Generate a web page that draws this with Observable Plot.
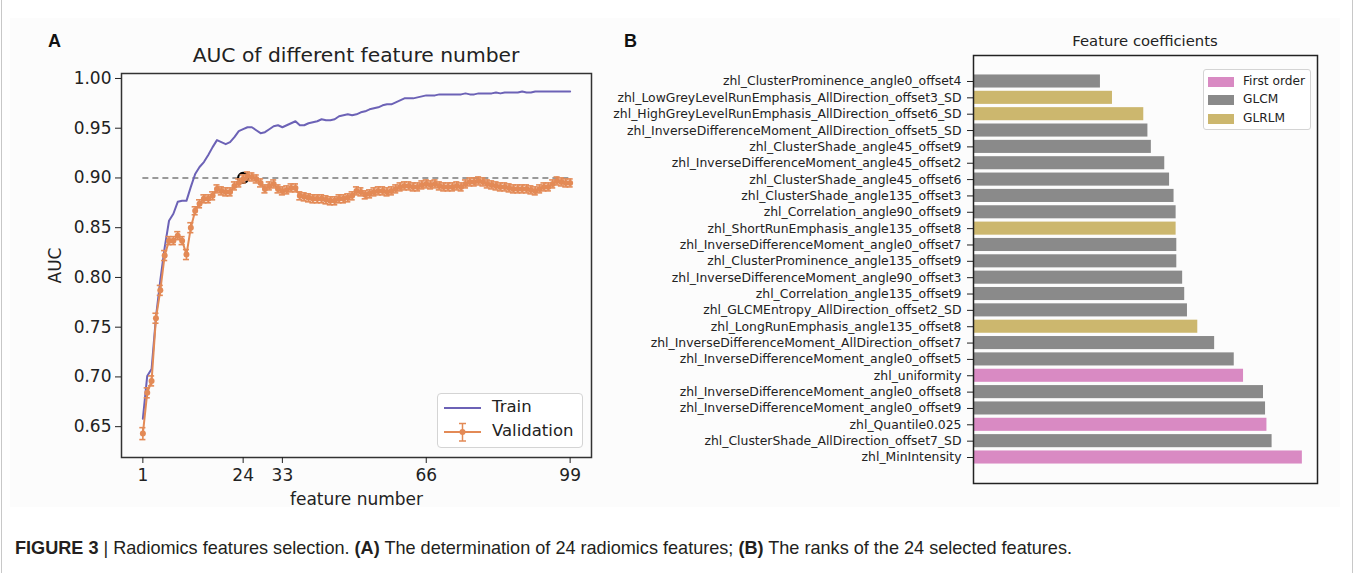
<!DOCTYPE html>
<html>
<head>
<meta charset="utf-8">
<script src="https://cdn.jsdelivr.net/npm/d3@7"></script>
<script src="https://cdn.jsdelivr.net/npm/@observablehq/plot@0.6"></script>
<style>
  html, body { margin: 0; padding: 0; background: #fff; }
  #fig { position: relative; width: 1358px; height: 573px; overflow: hidden; font-family: "DejaVu Sans", sans-serif; color: #222; }
  .abs { position: absolute; }
  .panel-letter { font-family: "Liberation Sans", Arial, sans-serif; font-weight: bold; font-size: 18px; color: #111; }
  .leg-text { font-family: "DejaVu Sans", sans-serif; white-space: nowrap; color: #222; }
</style>
</head>
<body>
<div id="fig">
  <div class="abs" style="left:1px;top:0;width:1px;height:573px;background:#c8c8c8"></div>
  <div class="abs" style="left:1352px;top:0;width:1px;height:573px;background:#c8c8c8"></div>
  <div class="abs" style="left:10px;top:18px;width:1330px;height:489px;background:#fcfcfc"></div>
  <div id="chartA" class="abs" style="left:0;top:0"></div>
  <div id="chartB" class="abs" style="left:600px;top:0"></div>
  <div class="abs panel-letter" style="left:48px;top:31px">A</div>
  <div class="abs panel-letter" style="left:624px;top:31px">B</div>
  <div class="abs leg-text" style="left:121px;top:43px;width:470px;text-align:center;font-size:20.3px">AUC of different feature number</div>
  <div class="abs leg-text" style="left:973px;top:32px;width:344px;text-align:center;font-size:14.8px">Feature coefficients</div>
  <div id="legA" class="abs"></div>
  <div id="legB" class="abs"></div>
  <div class="abs" style="left:15px;top:538px;font-family:'Liberation Sans',Arial,sans-serif;font-size:18.1px;color:#231f20;white-space:nowrap">
    <b>FIGURE 3</b> | Radiomics features selection. <b>(A)</b> The determination of 24 radiomics features; <b>(B)</b> The ranks of the 24 selected features.
  </div>
</div>
<script>
// ---------- Panel A data ----------
const xTicks = [1, 24, 33, 66, 99];
const yTicks = [0.65, 0.70, 0.75, 0.80, 0.85, 0.90, 0.95, 1.00];
const bestThreshold = 0.90;
const bestFeatureNumber = 24;
const seriesNames = ["Train", "Validation"];

const trainAUC = [
  0.658, 0.701, 0.708, 0.760, 0.797, 0.830, 0.857, 0.864, 0.876, 0.877,
  0.877, 0.891, 0.904, 0.911, 0.916, 0.923, 0.931, 0.938, 0.936, 0.934,
  0.936, 0.941, 0.947, 0.949, 0.951, 0.951, 0.948, 0.945, 0.946, 0.949,
  0.952, 0.953, 0.951, 0.953, 0.955, 0.957, 0.953, 0.953, 0.955, 0.956,
  0.957, 0.959, 0.958, 0.958, 0.959, 0.962, 0.963, 0.964, 0.963, 0.964,
  0.966, 0.967, 0.969, 0.970, 0.971, 0.973, 0.974, 0.974, 0.976, 0.978,
  0.980, 0.980, 0.980, 0.981, 0.982, 0.983, 0.983, 0.983, 0.984, 0.984,
  0.984, 0.984, 0.984, 0.984, 0.985, 0.984, 0.984, 0.985, 0.985, 0.985,
  0.985, 0.986, 0.985, 0.986, 0.986, 0.986, 0.986, 0.987, 0.986, 0.986,
  0.987, 0.987, 0.987, 0.987, 0.987, 0.987, 0.987, 0.987, 0.987
];
const valAUC = [
  0.643, 0.684, 0.696, 0.759, 0.787, 0.822, 0.837, 0.837, 0.842, 0.837,
  0.823, 0.850, 0.867, 0.874, 0.879, 0.879, 0.882, 0.889, 0.887, 0.886,
  0.886, 0.892, 0.895, 0.899, 0.902, 0.901, 0.899, 0.895, 0.889, 0.892,
  0.894, 0.889, 0.887, 0.888, 0.890, 0.890, 0.882, 0.881, 0.880, 0.879,
  0.879, 0.879, 0.878, 0.877, 0.877, 0.879, 0.879, 0.880, 0.882, 0.887,
  0.886, 0.883, 0.884, 0.886, 0.887, 0.887, 0.886, 0.887, 0.889, 0.891,
  0.892, 0.892, 0.891, 0.891, 0.893, 0.894, 0.893, 0.894, 0.892, 0.891,
  0.891, 0.891, 0.892, 0.891, 0.894, 0.896, 0.896, 0.897, 0.896, 0.894,
  0.893, 0.892, 0.891, 0.891, 0.890, 0.889, 0.889, 0.889, 0.889, 0.888,
  0.887, 0.889, 0.891, 0.891, 0.894, 0.897, 0.896, 0.895, 0.895
];
const valErr = [
  0.006, 0.005, 0.005, 0.005, 0.005, 0.005, 0.004, 0.004, 0.004, 0.004,
  0.005, 0.005, 0.004, 0.004, 0.004, 0.004, 0.004, 0.004, 0.004, 0.004,
  0.004, 0.004, 0.004, 0.004, 0.004, 0.004, 0.004, 0.004, 0.004, 0.004,
  0.004, 0.004, 0.004, 0.004, 0.004, 0.004, 0.004, 0.004, 0.004, 0.004,
  0.004, 0.004, 0.004, 0.004, 0.004, 0.004, 0.004, 0.004, 0.004, 0.004,
  0.004, 0.004, 0.004, 0.004, 0.004, 0.004, 0.004, 0.004, 0.004, 0.004,
  0.004, 0.004, 0.004, 0.004, 0.004, 0.004, 0.004, 0.004, 0.004, 0.004,
  0.004, 0.004, 0.004, 0.004, 0.004, 0.004, 0.004, 0.004, 0.004, 0.004,
  0.004, 0.004, 0.004, 0.004, 0.004, 0.004, 0.004, 0.004, 0.004, 0.004,
  0.004, 0.004, 0.004, 0.004, 0.004, 0.004, 0.004, 0.004, 0.004
];

// ---------- Panel B data ----------
const featureNames = [
  "zhl_ClusterProminence_angle0_offset4",
  "zhl_LowGreyLevelRunEmphasis_AllDirection_offset3_SD",
  "zhl_HighGreyLevelRunEmphasis_AllDirection_offset6_SD",
  "zhl_InverseDifferenceMoment_AllDirection_offset5_SD",
  "zhl_ClusterShade_angle45_offset9",
  "zhl_InverseDifferenceMoment_angle45_offset2",
  "zhl_ClusterShade_angle45_offset6",
  "zhl_ClusterShade_angle135_offset3",
  "zhl_Correlation_angle90_offset9",
  "zhl_ShortRunEmphasis_angle135_offset8",
  "zhl_InverseDifferenceMoment_angle0_offset7",
  "zhl_ClusterProminence_angle135_offset9",
  "zhl_InverseDifferenceMoment_angle90_offset3",
  "zhl_Correlation_angle135_offset9",
  "zhl_GLCMEntropy_AllDirection_offset2_SD",
  "zhl_LongRunEmphasis_angle135_offset8",
  "zhl_InverseDifferenceMoment_AllDirection_offset7",
  "zhl_InverseDifferenceMoment_angle0_offset5",
  "zhl_uniformity",
  "zhl_InverseDifferenceMoment_angle0_offset8",
  "zhl_InverseDifferenceMoment_angle0_offset9",
  "zhl_Quantile0.025",
  "zhl_ClusterShade_AllDirection_offset7_SD",
  "zhl_MinIntensity"
];
const featureCoef = [
  0.369, 0.404, 0.495, 0.507, 0.517, 0.556, 0.570, 0.583, 0.589, 0.589,
  0.591, 0.591, 0.608, 0.614, 0.622, 0.652, 0.701, 0.758, 0.785, 0.843,
  0.849, 0.853, 0.868, 0.956
];
const featureGroup = [
  "GLCM", "GLRLM", "GLRLM", "GLCM", "GLCM", "GLCM", "GLCM", "GLCM", "GLCM", "GLRLM",
  "GLCM", "GLCM", "GLCM", "GLCM", "GLCM", "GLRLM", "GLCM", "GLCM", "First order", "GLCM",
  "GLCM", "First order", "GLCM", "First order"
];
const groupNames = ["First order", "GLCM", "GLRLM"];

// ---------- styles ----------
const trainColor = "#6c62b6";
const valColor = "#e38a56";
const groupColors = ["#d98ac3", "#8a8a8a", "#ccb76e"];

// ---------- Panel A ----------
const featureNumbers = d3.range(1, trainAUC.length + 1);
const trainRows = featureNumbers.map((n, i) => ({n, auc: trainAUC[i]}));
const valRows = featureNumbers.map((n, i) => ({n, auc: valAUC[i], lo: valAUC[i] - valErr[i], hi: valAUC[i] + valErr[i]}));

const chartA = Plot.plot({
  width: 620, height: 520,
  marginLeft: 121, marginRight: 29, marginTop: 73, marginBottom: 63,
  x: {domain: [-3.9, 103.9]},
  y: {domain: [0.619, 1.005]},
  style: {fontFamily: "DejaVu Sans", fontSize: "17px", color: "#222", background: "transparent", overflow: "visible"},
  marks: [
    Plot.ruleY([bestThreshold], {x1: 1, x2: 99, stroke: "#7a7a7a", strokeWidth: 1.4, strokeDasharray: "6,4"}),
    Plot.dot([{n: bestFeatureNumber, auc: bestThreshold}], {x: "n", y: "auc", r: 5, stroke: "#000", strokeWidth: 2.2, fill: "none"}),
    Plot.line(trainRows, {x: "n", y: "auc", stroke: trainColor, strokeWidth: 2}),
    Plot.ruleX(valRows, {x: "n", y1: "lo", y2: "hi", stroke: valColor, strokeWidth: 1.6}),
    Plot.ruleY(valRows, {y: "hi", x1: d => d.n - 0.7, x2: d => d.n + 0.7, stroke: valColor, strokeWidth: 1.6}),
    Plot.ruleY(valRows, {y: "lo", x1: d => d.n - 0.7, x2: d => d.n + 0.7, stroke: valColor, strokeWidth: 1.6}),
    Plot.line(valRows, {x: "n", y: "auc", stroke: valColor, strokeWidth: 2}),
    Plot.dot(valRows, {x: "n", y: "auc", r: 3, fill: valColor}),
    Plot.frame({stroke: "#333", strokeWidth: 1.5}),
    Plot.axisX({ticks: xTicks, tickFormat: d => String(d), tickSize: 6, tickPadding: 5, label: "feature number", labelAnchor: "center", labelArrow: "none", labelOffset: 47}),
    Plot.axisY({ticks: yTicks, tickFormat: d3.format(".2f"), tickSize: 6, tickPadding: 4, label: "AUC", labelAnchor: "center", labelArrow: "none", labelOffset: 73})
  ]
});
document.getElementById("chartA").appendChild(chartA);

// ---------- Panel B ----------
const featureRows = featureNames.map((name, i) => ({name, coef: featureCoef[i], group: featureGroup[i]}));
const chartB = Plot.plot({
  width: 740, height: 520,
  marginLeft: 373, marginRight: 23, marginTop: 55, marginBottom: 37,
  x: {domain: [0, 1], axis: null},
  y: {domain: featureNames, paddingInner: 0.2, paddingOuter: 1.19, align: 0.5, round: false},
  color: {domain: groupNames, range: groupColors},
  style: {fontFamily: "DejaVu Sans", fontSize: "12.4px", color: "#222", background: "transparent", overflow: "visible"},
  marks: [
    Plot.barX(featureRows, {x: "coef", y: "name", fill: "group"}),
    Plot.frame({stroke: "#222", strokeWidth: 1.5}),
    Plot.axisY({tickSize: 6, tickPadding: 6, label: null})
  ]
});
document.getElementById("chartB").appendChild(chartB);

// ---------- Legends ----------
const legA = document.getElementById("legA");
legA.style.cssText = "left:437px;top:393px;width:144px;height:53px;border:1px solid #d4d4d4;border-radius:4px;background:rgba(255,255,255,0.85);";
legA.innerHTML =
  `<svg width="144" height="53" style="position:absolute;left:0;top:0">
     <line x1="6" x2="43" y1="14" y2="14" stroke="${trainColor}" stroke-width="2"/>
     <line x1="6" x2="43" y1="38" y2="38" stroke="${valColor}" stroke-width="2"/>
     <line x1="24.5" x2="24.5" y1="29.5" y2="47" stroke="${valColor}" stroke-width="1.5"/>
     <line x1="21" x2="28" y1="29.5" y2="29.5" stroke="${valColor}" stroke-width="1.5"/>
     <line x1="21" x2="28" y1="47" y2="47" stroke="${valColor}" stroke-width="1.5"/>
     <circle cx="24.5" cy="38" r="3" fill="${valColor}"/>
   </svg>
   <div class="leg-text" style="position:absolute;left:54px;top:3px;font-size:16.5px">${seriesNames[0]}</div>
   <div class="leg-text" style="position:absolute;left:54px;top:27px;font-size:16.5px">${seriesNames[1]}</div>`;

const legB = document.getElementById("legB");
legB.style.cssText = "left:1203px;top:69px;width:106px;height:59px;border:1px solid #d4d4d4;border-radius:3px;background:rgba(255,255,255,0.85);";
legB.innerHTML = groupNames.map((g, i) =>
  `<div style="position:absolute;left:4px;top:${7 + i * 18.3}px;width:26px;height:10px;background:${groupColors[i]}"></div>
   <div class="leg-text" style="position:absolute;left:39px;top:${4 + i * 18.3}px;font-size:12.2px">${g}</div>`
).join("");
</script>
</body>
</html>
